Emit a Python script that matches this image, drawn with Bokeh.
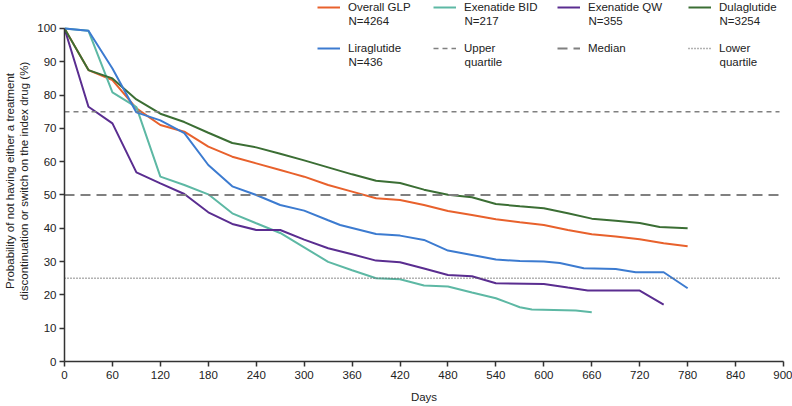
from bokeh.plotting import figure
from bokeh.models import Legend, LegendItem, Range1d, FixedTicker, Label
from bokeh.embed import file_html
from bokeh.resources import INLINE

# ---------------- data ----------------
glp_days = [0, 30, 60, 90, 120, 150, 180, 210, 240, 270, 285, 300, 330, 360, 390, 420, 450, 480, 510, 540, 570, 600, 630, 660, 690, 720, 750, 780]
glp_vals = [100, 87.5, 84.5, 76, 71, 69, 64.5, 61.5, 59.5, 57.5, 56.5, 55.5, 53, 51, 49, 48.5, 47, 45.2, 44, 42.7, 41.8, 41, 39.5, 38.2, 37.5, 36.7, 35.5, 34.6]

bid_days = [0, 30, 60, 90, 120, 150, 180, 210, 240, 270, 300, 330, 360, 390, 420, 450, 480, 510, 540, 570, 585, 640, 660]
bid_vals = [100, 99.3, 80.8, 76.4, 55.5, 53, 50.2, 44.5, 41.5, 38.6, 34.3, 29.9, 27.4, 25, 24.7, 22.8, 22.5, 20.7, 19, 16.3, 15.6, 15.3, 14.8]

qw_days = [0, 30, 60, 90, 120, 150, 180, 210, 240, 270, 300, 330, 360, 390, 420, 450, 480, 510, 540, 600, 630, 655, 720, 750]
qw_vals = [100, 76.5, 71.5, 56.8, 53.5, 50.3, 44.8, 41.3, 39.5, 39.5, 36.6, 34, 32.2, 30.3, 29.8, 27.9, 26, 25.6, 23.5, 23.3, 22.2, 21.3, 21.3, 17.1]

dula_days = [0, 30, 60, 90, 120, 150, 180, 210, 240, 270, 300, 330, 360, 390, 420, 450, 480, 510, 540, 570, 600, 630, 660, 690, 720, 745, 780]
dula_vals = [100, 87.5, 85, 78.7, 74.4, 71.9, 68.7, 65.6, 64.3, 62.4, 60.4, 58.3, 56.2, 54.3, 53.6, 51.6, 50.1, 49.3, 47.3, 46.6, 46, 44.5, 42.9, 42.3, 41.6, 40.4, 40]

lira_days = [0, 30, 60, 90, 120, 150, 180, 210, 240, 270, 300, 330, 345, 390, 420, 450, 480, 510, 540, 570, 600, 620, 650, 690, 715, 750, 780]
lira_vals = [100, 99.3, 88, 74.8, 72.4, 68.6, 59, 52.6, 50, 47, 45.3, 42.4, 41, 38.3, 37.8, 36.5, 33.3, 32, 30.6, 30.2, 30, 29.6, 28, 27.8, 26.8, 26.8, 22]

series_names = ["Overall GLP", "Exenatide BID", "Exenatide QW", "Dulaglutide", "Liraglutide"]
series_n = ["N=4264", "N=217", "N=355", "N=3254", "N=436"]
series_colors = ["#e8612c", "#5db8a4", "#5a2d90", "#3b6e34", "#3c7bd0"]

quartile_names = ["Upper", "Median", "Lower"]
quartile_second = ["quartile", "", "quartile"]
quartile_levels = [75, 50, 25]
quartile_extent = [0, 895]
quartile_dash = ["5 4", "10 6", "1 2"]
quartile_width = [1.5, 2, 1.5]
quartile_color = ["#808080", "#808080", "#666666"]

x_ticks = list(range(0, 901, 60))
y_ticks = list(range(0, 101, 10))

FONT = "Liberation Sans"
TXT = "#222222"
AX = "#333333"

p = figure(width=792, height=406, output_backend="svg", toolbar_location=None,
           x_range=Range1d(0, 900), y_range=Range1d(0, 108.4),
           min_border_left=63, min_border_right=9, min_border_top=0, min_border_bottom=45)

p.xgrid.visible = False
p.ygrid.visible = False
p.outline_line_color = None

for ax in (p.xaxis[0], p.yaxis[0]):
    ax.axis_line_color = AX
    ax.axis_line_width = 1.5
    ax.major_tick_line_color = AX
    ax.major_tick_line_width = 1.5
    ax.major_tick_out = 5
    ax.major_tick_in = 0
    ax.minor_tick_line_color = None
    ax.major_label_text_font = FONT
    ax.major_label_text_font_size = "11.5px"
    ax.major_label_text_color = TXT
    ax.axis_label_text_font = FONT
    ax.axis_label_text_font_size = "11.5px"
    ax.axis_label_text_font_style = "normal"
    ax.axis_label_text_color = TXT

p.xaxis.ticker = FixedTicker(ticks=x_ticks)
p.yaxis.ticker = FixedTicker(ticks=y_ticks)
p.yaxis.bounds = (0, 100)
p.xaxis.axis_label = "Days"
p.xaxis.major_label_standoff = 4
p.xaxis.axis_label_standoff = 9
p.yaxis.axis_label = "Probability of not having either a treatment\ndiscontinuation or switch on the index drug (%)"
p.yaxis.major_label_standoff = 3
p.yaxis.axis_label_standoff = 4

renderers = []
all_days = [glp_days, bid_days, qw_days, dula_days, lira_days]
all_vals = [glp_vals, bid_vals, qw_vals, dula_vals, lira_vals]
for d, v, c in zip(all_days, all_vals, series_colors):
    r = p.line(d, v, line_color=c, line_width=2)
    renderers.append(r)

q_renderers = []
for lvl, dash, w, c in zip(quartile_levels, quartile_dash, quartile_width, quartile_color):
    r = p.line(quartile_extent, [lvl, lvl], line_color=c, line_width=w, line_dash=dash)
    q_renderers.append(r)

# legend: 4 columns x 2 rows; first text line in the legend item, second line as a label below
col_items = [
    [(series_names[0], series_n[0], renderers[0]), (series_names[4], series_n[4], renderers[4])],
    [(series_names[1], series_n[1], renderers[1]), (quartile_names[0], quartile_second[0], q_renderers[0])],
    [(series_names[2], series_n[2], renderers[2]), (quartile_names[1], quartile_second[1], q_renderers[1])],
    [(series_names[3], series_n[3], renderers[3]), (quartile_names[2], quartile_second[2], q_renderers[2])],
]
frame_left, frame_bottom = 63, 361
col_glyph_x = [316, 432, 556, 687]
glyph_w, standoff = 23, 8
row_pitch, item_h = 41, 14
second_line_y = [20.5, 61.5]   # pixel rows (from top) of the second text lines
legend_bottom = item_h * 2 + (row_pitch - item_h)
for gx, items in zip(col_glyph_x, col_items):
    lg = Legend(items=[LegendItem(label=a, renderers=[r]) for a, b, r in items],
                location=(gx - frame_left, frame_bottom - legend_bottom), orientation="vertical",
                border_line_color=None, background_fill_alpha=0, padding=0, margin=0,
                spacing=row_pitch - item_h, glyph_width=glyph_w, glyph_height=item_h,
                label_standoff=standoff, label_height=item_h,
                label_text_font=FONT, label_text_font_size="11.5px", label_text_color=TXT)
    p.add_layout(lg, "center")
    for (a, b, r), sy in zip(items, second_line_y):
        if b:
            p.add_layout(Label(x=gx + glyph_w + standoff - frame_left, y=frame_bottom - sy,
                               x_units="screen", y_units="screen", text=b,
                               text_font=FONT, text_font_size="11.5px", text_color=TXT,
                               text_baseline="middle", text_align="left"))

open("out.html", "w").write(file_html(p, INLINE))
